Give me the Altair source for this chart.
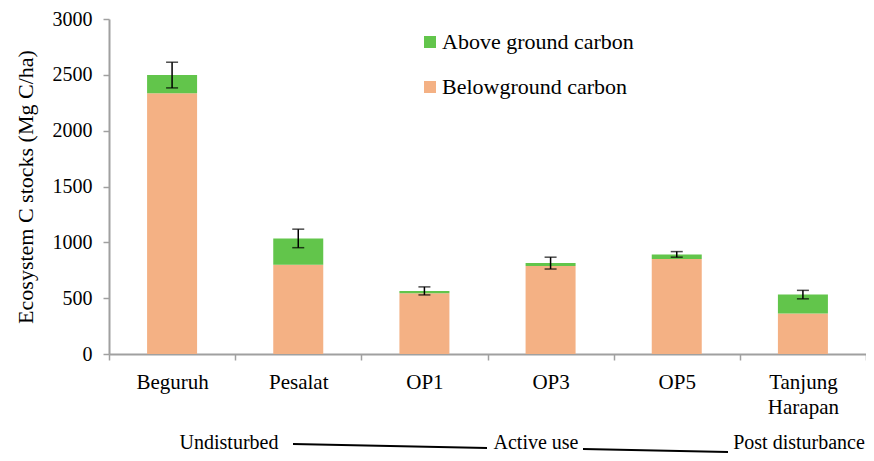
import altair as alt
import pandas as pd

sites = ["Beguruh", "Pesalat", "OP1", "OP3", "OP5", "Tanjung Harapan"]
below = [2335, 800, 543, 788, 850, 362]
above = [163, 235, 22, 26, 42, 170]
err = [115, 83, 36, 53, 25, 38]
series = ["Above ground carbon", "Belowground carbon"]
colors = ["#62C54B", "#F4B184"]
groups = ["Undisturbed", "Active use", "Post disturbance"]

FONT = "Liberation Serif"
W, H = 757, 335

rows = []
for s, b, a in zip(sites, below, above):
    rows.append({"site": s, "series": series[1], "value": b, "ord": 0})
    rows.append({"site": s, "series": series[0], "value": a, "ord": 1})
stack_df = pd.DataFrame(rows)
err_df = pd.DataFrame({"site": sites,
                       "total": [b + a for b, a in zip(below, above)],
                       "err": err})

xenc = alt.X("site:N", sort=sites, title=None,
             scale=alt.Scale(paddingInner=0, paddingOuter=0),
             axis=alt.Axis(labelAngle=0, labelFont=FONT, labelFontSize=21,
                           labelColor="#000", tickBand="extent", tickSize=6,
                           tickColor="#A0A0A0", domainColor="#A0A0A0",
                           domainWidth=2, tickWidth=1.5, labelPadding=11,
                           labelLineHeight=25, labelLimit=0,
                           labelExpr="split(datum.label, ' ')"))

bars = alt.Chart(stack_df).mark_bar(size=50).encode(
    x=xenc,
    y=alt.Y("value:Q", stack="zero",
            scale=alt.Scale(domain=[0, 3000], nice=False),
            title="Ecosystem C stocks (Mg C/ha)",
            axis=alt.Axis(values=[0, 500, 1000, 1500, 2000, 2500, 3000],
                          format="d",
                          grid=False, labelFont=FONT, labelFontSize=20,
                          labelColor="#000", tickSize=6, tickColor="#A0A0A0",
                          domainColor="#A0A0A0", domainWidth=2, tickWidth=1.5,
                          labelPadding=11, titleFont=FONT, titleFontSize=22,
                          titleFontWeight="normal", titleColor="#000",
                          titlePadding=15)),
    color=alt.Color("series:N",
                    scale=alt.Scale(domain=series, range=colors),
                    legend=alt.Legend(title=None, orient="none",
                                      legendX=310, legendY=12,
                                      symbolType="square", symbolSize=144,
                                      symbolStrokeWidth=0, labelLimit=0,
                                      labelFont=FONT, labelFontSize=22,
                                      labelColor="#000", rowPadding=23,
                                      labelOffset=1)),
    order=alt.Order("ord:Q"),
)

base_err = alt.Chart(err_df).transform_calculate(
    lo="datum.total - datum.err", hi="datum.total + datum.err")
rule = base_err.mark_rule(color="#000", strokeWidth=1.5).encode(
    x=alt.X("site:N", sort=sites), y="lo:Q", y2="hi:Q")
cap_lo = base_err.mark_tick(color="#000", size=12, thickness=1.5).encode(
    x=alt.X("site:N", sort=sites), y="lo:Q")
cap_hi = base_err.mark_tick(color="#000", size=12, thickness=1.5).encode(
    x=alt.X("site:N", sort=sites), y="hi:Q")

# annotation row below the axis
def label(txt, cx):
    return alt.Chart().mark_text(text=txt, font=FONT, fontSize=20,
                                 color="#000", baseline="alphabetic").encode(
        x=alt.value(cx), y=alt.value(430))

def line(x1, y1, x2, y2):
    return alt.Chart().mark_rule(color="#000", strokeWidth=2).encode(
        x=alt.value(x1), y=alt.value(y1), x2=alt.value(x2), y2=alt.value(y2))

annot = [label(groups[0], 120), line(184, 425, 378, 429),
         label(groups[1], 427), line(474, 430, 619, 433),
         label(groups[2], 690)]

chart = alt.layer(bars, rule, cap_lo, cap_hi, *annot).properties(
    width=W, height=H,
    autosize=alt.AutoSizeParams(type="none"),
    padding={"left": 101, "top": 11, "right": 0, "bottom": 99},
).configure_view(stroke=None).configure_axis(
    labelFont=FONT, titleFont=FONT
).configure_legend(labelFont=FONT).configure_text(font=FONT)

chart.save("out.html", embed_options={"renderer": "svg", "actions": False})
